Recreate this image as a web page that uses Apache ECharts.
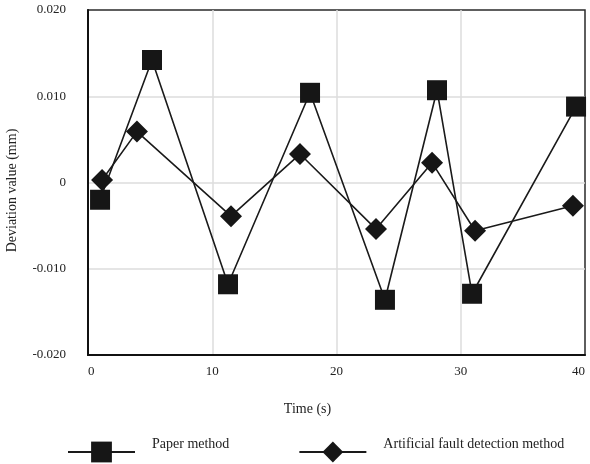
<!DOCTYPE html>
<html>
<head>
<meta charset="utf-8">
<script src="https://cdn.jsdelivr.net/npm/echarts@6/dist/echarts.min.js"></script>
<style>html,body{margin:0;padding:0;background:#fff;}#c{width:590px;height:464px;}</style>
</head>
<body>
<div id="c"></div>
<script>
const seriesNames = ['Paper method', 'Artificial fault detection method'];
const paperX = [0.97, 5.15, 11.27, 17.87, 23.90, 28.09, 30.91, 39.28];
const paperY = [-0.0020, 0.0142, -0.0118, 0.0104, -0.0136, 0.0107, -0.0129, 0.0088];
const manualX = [1.13, 3.94, 11.51, 17.06, 23.18, 27.69, 31.15, 39.03];
const manualY = [0.0003, 0.0059, -0.0039, 0.0033, -0.0054, 0.0023, -0.0056, -0.0027];
const xTicks = [0, 10, 20, 30, 40];
const yTickLabels = {'0.02': '0.020', '0.01': '0.010', '0': '0', '-0.01': '-0.010', '-0.02': '-0.020'};

const font = 'Liberation Serif, Times New Roman, serif';
const chart = echarts.init(document.getElementById('c'), null, {renderer: 'canvas'});
const pts = (xs, ys) => xs.map((x, i) => [x, ys[i]]);
const split = {show: true, showMinLine: false, showMaxLine: false, lineStyle: {color: '#dcdcdc', width: 1.5}};
chart.setOption({
  animation: false,
  backgroundColor: '#fff',
  grid: {left: 88, right: 5, top: 10, bottom: 109, show: true, borderColor: '#2a2a2a', borderWidth: 1.5,
    backgroundColor: 'transparent', containLabel: false, outerBoundsMode: 'none'},
  xAxis: {
    type: 'value', min: xTicks[0], max: xTicks[xTicks.length - 1], interval: 10,
    name: 'Time (s)', nameLocation: 'middle', nameGap: 47,
    nameTextStyle: {fontFamily: font, fontSize: 14, color: '#222', padding: [0, 58, 0, 0]},
    axisLine: {show: true, onZero: false, lineStyle: {color: '#111', width: 2}},
    axisTick: {show: false},
    axisLabel: {fontFamily: font, fontSize: 13, color: '#222', margin: 10,
      alignMinLabel: 'left', alignMaxLabel: 'right'},
    splitLine: split
  },
  yAxis: {
    type: 'value', min: -0.02, max: 0.02, interval: 0.01,
    name: 'Deviation value (mm)', nameLocation: 'middle', nameGap: 69,
    nameTextStyle: {fontFamily: font, fontSize: 14, color: '#222', padding: [0, 16, 0, 0]},
    axisLine: {show: true, onZero: false, lineStyle: {color: '#111', width: 2}},
    axisTick: {show: false},
    axisLabel: {fontFamily: font, fontSize: 13, color: '#222', margin: 22,
      formatter: v => yTickLabels[String(Math.round(v * 100) / 100)] ?? v.toFixed(3)},
    splitLine: split
  },
  legend: {
    left: 62, top: 432, itemWidth: 67, itemHeight: 26, itemGap: 69,
    formatter: name => '{t|' + name + '}',
    textStyle: {fontFamily: font, fontSize: 14, color: '#222', padding: [0, 0, 0, 12],
      rich: {t: {fontFamily: font, fontSize: 14, color: '#222', padding: [0, 0, 16, 0]}}},
    data: seriesNames
  },
  series: [
    {name: seriesNames[0], type: 'line', data: pts(paperX, paperY), symbol: 'rect', symbolSize: 20,
      lineStyle: {color: '#1a1a1a', width: 1.6}, itemStyle: {color: '#161616'}, z: 3},
    {name: seriesNames[1], type: 'line', data: pts(manualX, manualY), symbol: 'diamond', symbolSize: 22,
      lineStyle: {color: '#1a1a1a', width: 1.6}, itemStyle: {color: '#161616'}, z: 4}
  ]
});
</script>
</body>
</html>
